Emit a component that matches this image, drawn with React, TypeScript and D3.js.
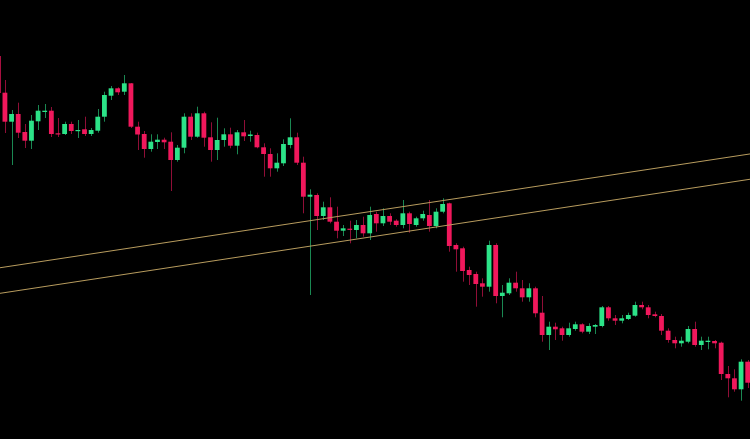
import React from "react";
import * as d3 from "d3";

// OHLC values (price units), one entry per candle, left to right
const opens = [383, 346.3, 317.3, 325, 307, 298.3, 317.7, 327, 328.3, 305.7, 305, 315, 307.8, 309.7, 305, 308.3, 322.3, 343.3, 350.7, 347.3,
  355.7, 312.3, 305, 290, 297, 299.3, 297.3, 279, 291.3, 322.3, 302.3, 325.7, 301.7, 289, 299, 304.7, 293.3, 306.7, 303, 304,
  291.7, 285, 270.7, 275.7, 294, 301.7, 276.3, 242.3, 244, 223, 231.7, 217.3, 208.3, 210.3, 209, 214, 205.7, 225, 215.7, 223,
  218.3, 214, 225.7, 214, 220.7, 224, 213, 227.3, 235.7, 194, 190.7, 169, 165, 155.7, 152.3, 194, 143, 145.7, 156.3, 150.7,
  141.7, 150.7, 126.3, 104, 112.3, 110.7, 104, 110, 114.7, 107.3, 112.3, 113, 131.7, 120.7, 118.3, 120, 123.3, 134, 131.7, 124.7,
  123, 108.3, 99, 95.7, 97.3, 110, 94, 97, 98, 96.3, 65, 60.7, 49.7, 77.3];
const highs = [391, 359, 329, 336.3, 315, 324, 334, 335, 332, 321, 317.3, 317.3, 319, 322.3, 311, 330, 347.3, 353, 351.7, 364,
  356, 317.3, 308, 304.7, 304.7, 301.3, 306.7, 294, 325.7, 325.7, 332.3, 327.3, 316.7, 321.3, 310.7, 311.3, 309, 319, 308.3, 306.3,
  295.7, 290.7, 285.7, 299.7, 320.7, 306.3, 282.3, 249.7, 245.7, 237.3, 241.7, 232.3, 214, 218.3, 219, 222.3, 232.3, 227.3, 230.7, 225.7,
  219.7, 239, 227.3, 222.3, 228.3, 239, 230.7, 240.7, 236.3, 195.7, 192.3, 172.3, 167.3, 160.7, 198.3, 195.7, 154, 160.7, 167.3, 159,
  155.7, 152.3, 143, 117.3, 116.3, 112.3, 116.3, 117.3, 115.7, 115.7, 115, 133, 133, 124, 124, 126.3, 137.3, 137.3, 134, 127.3,
  125, 110.7, 102.3, 102.3, 113, 117.3, 102.3, 102.3, 99, 97.3, 73, 69.7, 79.7, 79];
const lows = [343, 306, 274, 301, 291, 290, 309, 321, 302, 302, 304, 305, 301, 303, 303, 306.3, 317.3, 339, 344, 344,
  311, 289, 281.3, 287.3, 290, 290, 248, 277.3, 285.7, 299, 301.3, 292.3, 277.3, 279, 292.3, 290.7, 284.7, 298, 297.3, 290.7,
  262.3, 262.3, 267.3, 273, 290.7, 274, 225.7, 144, 209, 219, 215.7, 200.7, 203, 195.7, 200.7, 202.3, 199, 207.3, 213, 214,
  212.3, 210.7, 206.3, 212.3, 218.3, 207.3, 210.7, 225.7, 187.3, 167.3, 157.3, 154, 132.3, 142.3, 147.3, 135.7, 121.7, 144, 147.3, 137.3,
  137.3, 121.7, 97.3, 89, 99, 98.3, 102.3, 108.3, 105.7, 105, 105, 111.7, 118.3, 114, 115.7, 119, 122.3, 129.7, 120.7, 121.7,
  104, 96.3, 90.7, 92.3, 95.7, 92.3, 89, 89.7, 90.7, 59, 41.7, 47.3, 38.3, 51];
const closes = [346, 317.3, 325, 306.3, 298.3, 318.3, 328.3, 328.3, 305, 304.5, 315, 308, 309, 305, 309, 322.3, 344, 350.7, 346.7, 355.7,
  312.3, 304.5, 290, 297.3, 299.3, 296.7, 279, 291.3, 322.3, 302.3, 325.7, 301.3, 289, 299, 304.7, 293.3, 306.7, 302.7, 304.5, 291.7,
  285, 270.7, 276.3, 295, 301.7, 276.3, 242.3, 244.3, 223, 231.7, 217.3, 208.3, 210.7, 209.5, 214, 205.7, 224, 215.7, 223, 217.3,
  214, 225.7, 215, 220.7, 225, 213, 227.3, 235, 193, 189.7, 168, 164, 155, 152.3, 194, 143, 146.3, 156.3, 150.7, 141.7,
  150.7, 125.7, 104, 112.3, 109.7, 104, 110.7, 114.7, 107.3, 113, 114, 131.7, 120.7, 118.3, 120.7, 124, 134, 131.7, 124, 123,
  108.3, 99, 95.7, 98.3, 110, 94, 98.3, 98.3, 95.7, 65, 60.7, 49.7, 77.3, 56.3];

// Two parallel trend lines: anchor points (candle index, price)
const upperTrend = [{ i: 0, p: 171.0 }, { i: 113, p: 284.7 }];
const lowerTrend = [{ i: 0, p: 145.4 }, { i: 113, p: 259.4 }];

const W = 750;
const H = 439;
const UP = "#2ce388";
const DOWN = "#f0185c";
const TREND = "#b89c5e";

export default function App() {
  const n = opens.length;
  const x = d3.scaleLinear().domain([0, n - 1]).range([-1.7, 747.7]);
  const y = d3.scaleLinear().domain([0, H]).range([H, 0]);
  const bodyW = 4.8;

  const trendPath = (pts: { i: number; p: number }[]) => {
    const slope = (pts[1].p - pts[0].p) / (pts[1].i - pts[0].i);
    const i0 = x.invert(0);
    const i1 = x.invert(W);
    const line = d3
      .line<number>()
      .x((i) => x(i))
      .y((i) => y(pts[0].p + slope * (i - pts[0].i)));
    return line([i0, i1]) || "";
  };

  return (
    <svg
      width={W}
      height={H}
      style={{ position: "fixed", left: 0, top: 0, background: "#000", display: "block" }}
    >
      <rect x={0} y={0} width={W} height={H} fill="#000" />
      {opens.map((o, i) => {
        const c = closes[i];
        const up = c >= o;
        const col = up ? UP : DOWN;
        const cx = x(i);
        const top = y(Math.max(o, c));
        const bot = y(Math.min(o, c));
        const wx = Math.round(cx) + 0.5;
        return (
          <g key={i}>
            <line
              x1={wx}
              x2={wx}
              y1={y(highs[i])}
              y2={y(lows[i])}
              stroke={col}
              strokeOpacity={0.6}
              strokeWidth={1}
            />
            <rect
              x={cx - bodyW / 2}
              y={top}
              width={bodyW}
              height={Math.max(1.2, bot - top)}
              fill={col}
            />
          </g>
        );
      })}
      <path d={trendPath(upperTrend)} stroke={TREND} strokeWidth={1} fill="none" />
      <path d={trendPath(lowerTrend)} stroke={TREND} strokeWidth={1} fill="none" />
    </svg>
  );
}
